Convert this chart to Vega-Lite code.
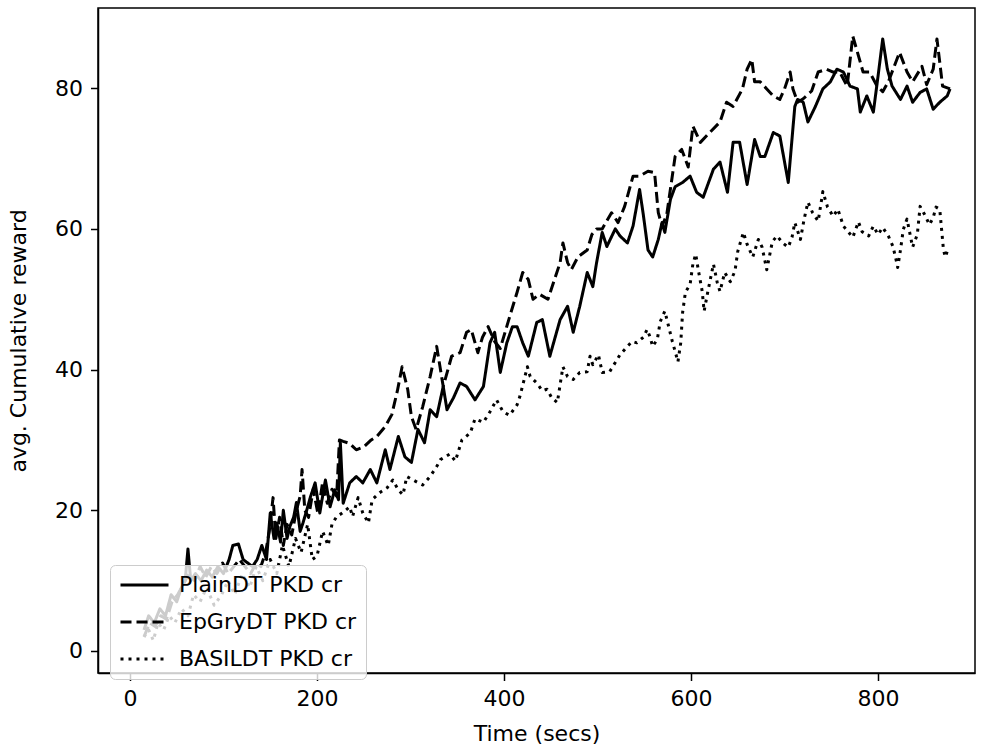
{
  "$schema": "https://vega.github.io/schema/vega-lite/v6.json",
  "width": 877,
  "height": 665,
  "autosize": {"type": "none"},
  "padding": {"left": 98, "top": 8, "right": 14, "bottom": 80},
  "background": "white",
  "config": {
    "font": "DejaVu Sans",
    "view": {"stroke": "black", "strokeWidth": 1.5},
    "axis": {
      "grid": false,
      "domainColor": "black",
      "domainWidth": 1.5,
      "tickColor": "black",
      "tickWidth": 1.5,
      "tickSize": 7.5,
      "labelFont": "DejaVu Sans",
      "labelFontSize": 22,
      "labelColor": "black",
      "titleFont": "DejaVu Sans",
      "titleFontSize": 22,
      "titleColor": "black",
      "titleFontWeight": "normal"
    },
    "legend": {
      "orient": "none",
      "legendX": 12,
      "legendY": 557,
      "fillColor": "rgba(255,255,255,0.8)",
      "strokeColor": "#cccccc",
      "cornerRadius": 5,
      "padding": 9,
      "rowPadding": 15,
      "clipHeight": 22,
      "labelFont": "DejaVu Sans",
      "labelFontSize": 22,
      "labelColor": "black",
      "labelOffset": 9,
      "labelLimit": 400,
      "symbolType": "stroke",
      "symbolSize": 2304,
      "symbolStrokeWidth": 3,
      "symbolStrokeColor": "black",
      "title": null
    }
  },
  "data": {
    "values": [
      {"series":"PlainDT PKD cr","time":15,"reward":3},{"series":"PlainDT PKD cr","time":20,"reward":5},{"series":"PlainDT PKD cr","time":26,"reward":4},{"series":"PlainDT PKD cr","time":32,"reward":6},{"series":"PlainDT PKD cr","time":38,"reward":5},{"series":"PlainDT PKD cr","time":44,"reward":8},{"series":"PlainDT PKD cr","time":50,"reward":7},{"series":"PlainDT PKD cr","time":55,"reward":9},{"series":"PlainDT PKD cr","time":59,"reward":10},{"series":"PlainDT PKD cr","time":62,"reward":14.5},{"series":"PlainDT PKD cr","time":65,"reward":10},{"series":"PlainDT PKD cr","time":70,"reward":11},{"series":"PlainDT PKD cr","time":76,"reward":10},{"series":"PlainDT PKD cr","time":82,"reward":11.5},{"series":"PlainDT PKD cr","time":88,"reward":10.5},{"series":"PlainDT PKD cr","time":94,"reward":12},{"series":"PlainDT PKD cr","time":100,"reward":11},{"series":"PlainDT PKD cr","time":106,"reward":13},{"series":"PlainDT PKD cr","time":110,"reward":15},{"series":"PlainDT PKD cr","time":116,"reward":15.2},{"series":"PlainDT PKD cr","time":121,"reward":13},{"series":"PlainDT PKD cr","time":126,"reward":12.5},{"series":"PlainDT PKD cr","time":131,"reward":12},{"series":"PlainDT PKD cr","time":136,"reward":13},{"series":"PlainDT PKD cr","time":141,"reward":15},{"series":"PlainDT PKD cr","time":146,"reward":13},{"series":"PlainDT PKD cr","time":150,"reward":19.6},{"series":"PlainDT PKD cr","time":154,"reward":16},{"series":"PlainDT PKD cr","time":157,"reward":18.2},{"series":"PlainDT PKD cr","time":161,"reward":15.5},{"series":"PlainDT PKD cr","time":164,"reward":20},{"series":"PlainDT PKD cr","time":168,"reward":16},{"series":"PlainDT PKD cr","time":171,"reward":17.7},{"series":"PlainDT PKD cr","time":175,"reward":19},{"series":"PlainDT PKD cr","time":178,"reward":21.1},{"series":"PlainDT PKD cr","time":182,"reward":17},{"series":"PlainDT PKD cr","time":185,"reward":18.2},{"series":"PlainDT PKD cr","time":189,"reward":20},{"series":"PlainDT PKD cr","time":193,"reward":21.9},{"series":"PlainDT PKD cr","time":198,"reward":23.9},{"series":"PlainDT PKD cr","time":203,"reward":19.6},{"series":"PlainDT PKD cr","time":206,"reward":22},{"series":"PlainDT PKD cr","time":209,"reward":24.3},{"series":"PlainDT PKD cr","time":214,"reward":20.5},{"series":"PlainDT PKD cr","time":219,"reward":22.9},{"series":"PlainDT PKD cr","time":223,"reward":21.5},{"series":"PlainDT PKD cr","time":225,"reward":29.6},{"series":"PlainDT PKD cr","time":228,"reward":21},{"series":"PlainDT PKD cr","time":235,"reward":23.9},{"series":"PlainDT PKD cr","time":242,"reward":24.8},{"series":"PlainDT PKD cr","time":249,"reward":23.9},{"series":"PlainDT PKD cr","time":257,"reward":25.8},{"series":"PlainDT PKD cr","time":264,"reward":23.9},{"series":"PlainDT PKD cr","time":273,"reward":28.6},{"series":"PlainDT PKD cr","time":278,"reward":25.8},{"series":"PlainDT PKD cr","time":287,"reward":30.5},{"series":"PlainDT PKD cr","time":294,"reward":27.6},{"series":"PlainDT PKD cr","time":301,"reward":26.8},{"series":"PlainDT PKD cr","time":308,"reward":31.5},{"series":"PlainDT PKD cr","time":315,"reward":29.6},{"series":"PlainDT PKD cr","time":321,"reward":34.3},{"series":"PlainDT PKD cr","time":328,"reward":33.3},{"series":"PlainDT PKD cr","time":335,"reward":37.6},{"series":"PlainDT PKD cr","time":339,"reward":34.3},{"series":"PlainDT PKD cr","time":346,"reward":36},{"series":"PlainDT PKD cr","time":353,"reward":38.1},{"series":"PlainDT PKD cr","time":360,"reward":37.6},{"series":"PlainDT PKD cr","time":369,"reward":35.7},{"series":"PlainDT PKD cr","time":378,"reward":37.6},{"series":"PlainDT PKD cr","time":385,"reward":43.8},{"series":"PlainDT PKD cr","time":390,"reward":45.3},{"series":"PlainDT PKD cr","time":396,"reward":39.6},{"series":"PlainDT PKD cr","time":403,"reward":43.8},{"series":"PlainDT PKD cr","time":409,"reward":46.1},{"series":"PlainDT PKD cr","time":414,"reward":46.1},{"series":"PlainDT PKD cr","time":420,"reward":43.8},{"series":"PlainDT PKD cr","time":426,"reward":41.9},{"series":"PlainDT PKD cr","time":435,"reward":46.7},{"series":"PlainDT PKD cr","time":441,"reward":47.1},{"series":"PlainDT PKD cr","time":449,"reward":41.9},{"series":"PlainDT PKD cr","time":460,"reward":47.1},{"series":"PlainDT PKD cr","time":468,"reward":49},{"series":"PlainDT PKD cr","time":474,"reward":45.3},{"series":"PlainDT PKD cr","time":481,"reward":49},{"series":"PlainDT PKD cr","time":489,"reward":53.8},{"series":"PlainDT PKD cr","time":495,"reward":51.8},{"series":"PlainDT PKD cr","time":499,"reward":55.2},{"series":"PlainDT PKD cr","time":505,"reward":59.5},{"series":"PlainDT PKD cr","time":510,"reward":57.5},{"series":"PlainDT PKD cr","time":519,"reward":60},{"series":"PlainDT PKD cr","time":524,"reward":59},{"series":"PlainDT PKD cr","time":532,"reward":58},{"series":"PlainDT PKD cr","time":538,"reward":60.4},{"series":"PlainDT PKD cr","time":545,"reward":65.6},{"series":"PlainDT PKD cr","time":549,"reward":62},{"series":"PlainDT PKD cr","time":554,"reward":57},{"series":"PlainDT PKD cr","time":559,"reward":56},{"series":"PlainDT PKD cr","time":565,"reward":58.5},{"series":"PlainDT PKD cr","time":569,"reward":60.9},{"series":"PlainDT PKD cr","time":572,"reward":59.5},{"series":"PlainDT PKD cr","time":578,"reward":64.2},{"series":"PlainDT PKD cr","time":583,"reward":66},{"series":"PlainDT PKD cr","time":591,"reward":66.6},{"series":"PlainDT PKD cr","time":599,"reward":67.5},{"series":"PlainDT PKD cr","time":606,"reward":65.2},{"series":"PlainDT PKD cr","time":613,"reward":64.5},{"series":"PlainDT PKD cr","time":624,"reward":68.5},{"series":"PlainDT PKD cr","time":631,"reward":69.5},{"series":"PlainDT PKD cr","time":639,"reward":65.2},{"series":"PlainDT PKD cr","time":645,"reward":72.3},{"series":"PlainDT PKD cr","time":652,"reward":72.3},{"series":"PlainDT PKD cr","time":660,"reward":66.3},{"series":"PlainDT PKD cr","time":668,"reward":72.7},{"series":"PlainDT PKD cr","time":674,"reward":70.3},{"series":"PlainDT PKD cr","time":679,"reward":70.3},{"series":"PlainDT PKD cr","time":688,"reward":73.7},{"series":"PlainDT PKD cr","time":695,"reward":73.2},{"series":"PlainDT PKD cr","time":704,"reward":66.6},{"series":"PlainDT PKD cr","time":711,"reward":77.4},{"series":"PlainDT PKD cr","time":714,"reward":78.4},{"series":"PlainDT PKD cr","time":720,"reward":78},{"series":"PlainDT PKD cr","time":725,"reward":75.2},{"series":"PlainDT PKD cr","time":733,"reward":77.4},{"series":"PlainDT PKD cr","time":741,"reward":79.9},{"series":"PlainDT PKD cr","time":749,"reward":80.9},{"series":"PlainDT PKD cr","time":756,"reward":82.7},{"series":"PlainDT PKD cr","time":763,"reward":82.3},{"series":"PlainDT PKD cr","time":770,"reward":80.3},{"series":"PlainDT PKD cr","time":778,"reward":79.9},{"series":"PlainDT PKD cr","time":781,"reward":76.6},{"series":"PlainDT PKD cr","time":788,"reward":78.9},{"series":"PlainDT PKD cr","time":795,"reward":76.6},{"series":"PlainDT PKD cr","time":800,"reward":81.7},{"series":"PlainDT PKD cr","time":805,"reward":87},{"series":"PlainDT PKD cr","time":810,"reward":82.7},{"series":"PlainDT PKD cr","time":815,"reward":80.3},{"series":"PlainDT PKD cr","time":824,"reward":78.4},{"series":"PlainDT PKD cr","time":831,"reward":80.3},{"series":"PlainDT PKD cr","time":837,"reward":78},{"series":"PlainDT PKD cr","time":845,"reward":79.4},{"series":"PlainDT PKD cr","time":852,"reward":79.9},{"series":"PlainDT PKD cr","time":859,"reward":77},{"series":"PlainDT PKD cr","time":866,"reward":78},{"series":"PlainDT PKD cr","time":874,"reward":78.9},{"series":"PlainDT PKD cr","time":877,"reward":79.9},
      {"series":"EpGryDT PKD cr","time":15,"reward":2},{"series":"EpGryDT PKD cr","time":21,"reward":4},{"series":"EpGryDT PKD cr","time":27,"reward":3.5},{"series":"EpGryDT PKD cr","time":33,"reward":5},{"series":"EpGryDT PKD cr","time":39,"reward":4.5},{"series":"EpGryDT PKD cr","time":45,"reward":7},{"series":"EpGryDT PKD cr","time":51,"reward":8},{"series":"EpGryDT PKD cr","time":57,"reward":9.5},{"series":"EpGryDT PKD cr","time":63,"reward":11},{"series":"EpGryDT PKD cr","time":69,"reward":10},{"series":"EpGryDT PKD cr","time":75,"reward":12},{"series":"EpGryDT PKD cr","time":81,"reward":10.5},{"series":"EpGryDT PKD cr","time":87,"reward":12},{"series":"EpGryDT PKD cr","time":93,"reward":11},{"series":"EpGryDT PKD cr","time":99,"reward":12.5},{"series":"EpGryDT PKD cr","time":105,"reward":11},{"series":"EpGryDT PKD cr","time":111,"reward":12},{"series":"EpGryDT PKD cr","time":117,"reward":13},{"series":"EpGryDT PKD cr","time":123,"reward":12},{"series":"EpGryDT PKD cr","time":129,"reward":11},{"series":"EpGryDT PKD cr","time":135,"reward":12.5},{"series":"EpGryDT PKD cr","time":140,"reward":12},{"series":"EpGryDT PKD cr","time":145,"reward":14},{"series":"EpGryDT PKD cr","time":149,"reward":17},{"series":"EpGryDT PKD cr","time":153,"reward":21.8},{"series":"EpGryDT PKD cr","time":156,"reward":16},{"series":"EpGryDT PKD cr","time":160,"reward":19},{"series":"EpGryDT PKD cr","time":164,"reward":15},{"series":"EpGryDT PKD cr","time":168,"reward":18},{"series":"EpGryDT PKD cr","time":173,"reward":16.5},{"series":"EpGryDT PKD cr","time":178,"reward":20},{"series":"EpGryDT PKD cr","time":182,"reward":22},{"series":"EpGryDT PKD cr","time":184,"reward":25.8},{"series":"EpGryDT PKD cr","time":187,"reward":20},{"series":"EpGryDT PKD cr","time":191,"reward":19},{"series":"EpGryDT PKD cr","time":196,"reward":23},{"series":"EpGryDT PKD cr","time":201,"reward":19.5},{"series":"EpGryDT PKD cr","time":206,"reward":24},{"series":"EpGryDT PKD cr","time":211,"reward":21},{"series":"EpGryDT PKD cr","time":216,"reward":23},{"series":"EpGryDT PKD cr","time":221,"reward":22},{"series":"EpGryDT PKD cr","time":224,"reward":30},{"series":"EpGryDT PKD cr","time":228,"reward":29.8},{"series":"EpGryDT PKD cr","time":235,"reward":29.5},{"series":"EpGryDT PKD cr","time":242,"reward":28.6},{"series":"EpGryDT PKD cr","time":250,"reward":29},{"series":"EpGryDT PKD cr","time":258,"reward":30},{"series":"EpGryDT PKD cr","time":264,"reward":30.5},{"series":"EpGryDT PKD cr","time":273,"reward":31.9},{"series":"EpGryDT PKD cr","time":280,"reward":33.6},{"series":"EpGryDT PKD cr","time":286,"reward":37},{"series":"EpGryDT PKD cr","time":291,"reward":40.4},{"series":"EpGryDT PKD cr","time":297,"reward":37.2},{"series":"EpGryDT PKD cr","time":301,"reward":33.3},{"series":"EpGryDT PKD cr","time":306,"reward":31.5},{"series":"EpGryDT PKD cr","time":313,"reward":34.7},{"series":"EpGryDT PKD cr","time":321,"reward":39},{"series":"EpGryDT PKD cr","time":328,"reward":43.3},{"series":"EpGryDT PKD cr","time":335,"reward":37.6},{"series":"EpGryDT PKD cr","time":344,"reward":41.9},{"series":"EpGryDT PKD cr","time":353,"reward":42.4},{"series":"EpGryDT PKD cr","time":360,"reward":45.3},{"series":"EpGryDT PKD cr","time":365,"reward":45.7},{"series":"EpGryDT PKD cr","time":372,"reward":42.4},{"series":"EpGryDT PKD cr","time":377,"reward":44.6},{"series":"EpGryDT PKD cr","time":383,"reward":46.1},{"series":"EpGryDT PKD cr","time":390,"reward":44},{"series":"EpGryDT PKD cr","time":396,"reward":43},{"series":"EpGryDT PKD cr","time":406,"reward":47.5},{"series":"EpGryDT PKD cr","time":414,"reward":51},{"series":"EpGryDT PKD cr","time":420,"reward":53.8},{"series":"EpGryDT PKD cr","time":426,"reward":52.8},{"series":"EpGryDT PKD cr","time":431,"reward":50},{"series":"EpGryDT PKD cr","time":438,"reward":50.7},{"series":"EpGryDT PKD cr","time":447,"reward":50},{"series":"EpGryDT PKD cr","time":454,"reward":52.8},{"series":"EpGryDT PKD cr","time":460,"reward":55.2},{"series":"EpGryDT PKD cr","time":463,"reward":58},{"series":"EpGryDT PKD cr","time":468,"reward":55.2},{"series":"EpGryDT PKD cr","time":472,"reward":54.2},{"series":"EpGryDT PKD cr","time":479,"reward":56},{"series":"EpGryDT PKD cr","time":489,"reward":57},{"series":"EpGryDT PKD cr","time":494,"reward":59.2},{"series":"EpGryDT PKD cr","time":499,"reward":60},{"series":"EpGryDT PKD cr","time":505,"reward":60},{"series":"EpGryDT PKD cr","time":515,"reward":62.3},{"series":"EpGryDT PKD cr","time":522,"reward":60.9},{"series":"EpGryDT PKD cr","time":529,"reward":63.2},{"series":"EpGryDT PKD cr","time":538,"reward":67.5},{"series":"EpGryDT PKD cr","time":545,"reward":67.5},{"series":"EpGryDT PKD cr","time":554,"reward":68.2},{"series":"EpGryDT PKD cr","time":561,"reward":68},{"series":"EpGryDT PKD cr","time":565,"reward":62.3},{"series":"EpGryDT PKD cr","time":569,"reward":60.4},{"series":"EpGryDT PKD cr","time":574,"reward":62},{"series":"EpGryDT PKD cr","time":583,"reward":70.3},{"series":"EpGryDT PKD cr","time":590,"reward":71.3},{"series":"EpGryDT PKD cr","time":597,"reward":68.8},{"series":"EpGryDT PKD cr","time":602,"reward":74.6},{"series":"EpGryDT PKD cr","time":610,"reward":72.3},{"series":"EpGryDT PKD cr","time":620,"reward":73.7},{"series":"EpGryDT PKD cr","time":631,"reward":75.2},{"series":"EpGryDT PKD cr","time":638,"reward":78},{"series":"EpGryDT PKD cr","time":645,"reward":77.4},{"series":"EpGryDT PKD cr","time":655,"reward":79.9},{"series":"EpGryDT PKD cr","time":660,"reward":82.7},{"series":"EpGryDT PKD cr","time":665,"reward":84.1},{"series":"EpGryDT PKD cr","time":668,"reward":80.9},{"series":"EpGryDT PKD cr","time":674,"reward":80.9},{"series":"EpGryDT PKD cr","time":681,"reward":79.9},{"series":"EpGryDT PKD cr","time":688,"reward":78.9},{"series":"EpGryDT PKD cr","time":695,"reward":78.4},{"series":"EpGryDT PKD cr","time":700,"reward":79.9},{"series":"EpGryDT PKD cr","time":706,"reward":82.3},{"series":"EpGryDT PKD cr","time":709,"reward":79.9},{"series":"EpGryDT PKD cr","time":714,"reward":78},{"series":"EpGryDT PKD cr","time":720,"reward":78.5},{"series":"EpGryDT PKD cr","time":729,"reward":79.6},{"series":"EpGryDT PKD cr","time":736,"reward":82.3},{"series":"EpGryDT PKD cr","time":745,"reward":82.7},{"series":"EpGryDT PKD cr","time":752,"reward":82.3},{"series":"EpGryDT PKD cr","time":759,"reward":82.3},{"series":"EpGryDT PKD cr","time":767,"reward":80.3},{"series":"EpGryDT PKD cr","time":773,"reward":87.4},{"series":"EpGryDT PKD cr","time":778,"reward":85.1},{"series":"EpGryDT PKD cr","time":784,"reward":82.3},{"series":"EpGryDT PKD cr","time":791,"reward":82.3},{"series":"EpGryDT PKD cr","time":799,"reward":80.3},{"series":"EpGryDT PKD cr","time":805,"reward":79.5},{"series":"EpGryDT PKD cr","time":811,"reward":80.9},{"series":"EpGryDT PKD cr","time":817,"reward":83},{"series":"EpGryDT PKD cr","time":823,"reward":85.1},{"series":"EpGryDT PKD cr","time":831,"reward":82.3},{"series":"EpGryDT PKD cr","time":837,"reward":80.9},{"series":"EpGryDT PKD cr","time":847,"reward":83.1},{"series":"EpGryDT PKD cr","time":852,"reward":80.5},{"series":"EpGryDT PKD cr","time":859,"reward":82.7},{"series":"EpGryDT PKD cr","time":863,"reward":87},{"series":"EpGryDT PKD cr","time":866,"reward":83.7},{"series":"EpGryDT PKD cr","time":869,"reward":80.3},{"series":"EpGryDT PKD cr","time":877,"reward":79.9},
      {"series":"BASILDT PKD cr","time":15,"reward":2},{"series":"BASILDT PKD cr","time":20,"reward":3},{"series":"BASILDT PKD cr","time":25,"reward":1.5},{"series":"BASILDT PKD cr","time":30,"reward":4},{"series":"BASILDT PKD cr","time":36,"reward":3},{"series":"BASILDT PKD cr","time":42,"reward":5},{"series":"BASILDT PKD cr","time":48,"reward":4},{"series":"BASILDT PKD cr","time":55,"reward":6},{"series":"BASILDT PKD cr","time":62,"reward":5},{"series":"BASILDT PKD cr","time":68,"reward":8},{"series":"BASILDT PKD cr","time":75,"reward":7},{"series":"BASILDT PKD cr","time":82,"reward":9},{"series":"BASILDT PKD cr","time":90,"reward":6.5},{"series":"BASILDT PKD cr","time":98,"reward":8},{"series":"BASILDT PKD cr","time":105,"reward":10},{"series":"BASILDT PKD cr","time":112,"reward":8},{"series":"BASILDT PKD cr","time":120,"reward":11},{"series":"BASILDT PKD cr","time":128,"reward":9},{"series":"BASILDT PKD cr","time":135,"reward":12},{"series":"BASILDT PKD cr","time":142,"reward":10},{"series":"BASILDT PKD cr","time":150,"reward":13},{"series":"BASILDT PKD cr","time":157,"reward":11},{"series":"BASILDT PKD cr","time":163,"reward":15},{"series":"BASILDT PKD cr","time":170,"reward":12},{"series":"BASILDT PKD cr","time":177,"reward":16},{"series":"BASILDT PKD cr","time":183,"reward":14},{"series":"BASILDT PKD cr","time":190,"reward":18},{"series":"BASILDT PKD cr","time":195,"reward":13},{"series":"BASILDT PKD cr","time":200,"reward":13.5},{"series":"BASILDT PKD cr","time":206,"reward":17},{"series":"BASILDT PKD cr","time":212,"reward":15},{"series":"BASILDT PKD cr","time":216,"reward":18},{"series":"BASILDT PKD cr","time":221,"reward":19.1},{"series":"BASILDT PKD cr","time":227,"reward":19.6},{"series":"BASILDT PKD cr","time":235,"reward":20.5},{"series":"BASILDT PKD cr","time":238,"reward":19.1},{"series":"BASILDT PKD cr","time":244,"reward":21.8},{"series":"BASILDT PKD cr","time":249,"reward":19.6},{"series":"BASILDT PKD cr","time":255,"reward":18.2},{"series":"BASILDT PKD cr","time":259,"reward":21.5},{"series":"BASILDT PKD cr","time":267,"reward":22.5},{"series":"BASILDT PKD cr","time":275,"reward":23.2},{"series":"BASILDT PKD cr","time":281,"reward":24.3},{"series":"BASILDT PKD cr","time":287,"reward":22.9},{"series":"BASILDT PKD cr","time":292,"reward":22.2},{"series":"BASILDT PKD cr","time":296,"reward":24.8},{"series":"BASILDT PKD cr","time":307,"reward":24},{"series":"BASILDT PKD cr","time":313,"reward":23.6},{"series":"BASILDT PKD cr","time":321,"reward":24.8},{"series":"BASILDT PKD cr","time":328,"reward":26.2},{"series":"BASILDT PKD cr","time":332,"reward":27.2},{"series":"BASILDT PKD cr","time":342,"reward":28},{"series":"BASILDT PKD cr","time":348,"reward":27},{"series":"BASILDT PKD cr","time":355,"reward":30},{"series":"BASILDT PKD cr","time":364,"reward":31},{"series":"BASILDT PKD cr","time":369,"reward":33},{"series":"BASILDT PKD cr","time":378,"reward":32.5},{"series":"BASILDT PKD cr","time":385,"reward":34},{"series":"BASILDT PKD cr","time":392,"reward":35.7},{"series":"BASILDT PKD cr","time":399,"reward":34},{"series":"BASILDT PKD cr","time":406,"reward":33.5},{"series":"BASILDT PKD cr","time":414,"reward":35},{"series":"BASILDT PKD cr","time":417,"reward":36.2},{"series":"BASILDT PKD cr","time":425,"reward":40.4},{"series":"BASILDT PKD cr","time":428,"reward":39},{"series":"BASILDT PKD cr","time":435,"reward":38.1},{"series":"BASILDT PKD cr","time":441,"reward":37},{"series":"BASILDT PKD cr","time":446,"reward":37.2},{"series":"BASILDT PKD cr","time":451,"reward":36},{"series":"BASILDT PKD cr","time":457,"reward":35.3},{"series":"BASILDT PKD cr","time":463,"reward":40.4},{"series":"BASILDT PKD cr","time":468,"reward":39},{"series":"BASILDT PKD cr","time":474,"reward":38.6},{"series":"BASILDT PKD cr","time":481,"reward":39.6},{"series":"BASILDT PKD cr","time":489,"reward":39.7},{"series":"BASILDT PKD cr","time":492,"reward":41.9},{"series":"BASILDT PKD cr","time":495,"reward":40.7},{"series":"BASILDT PKD cr","time":501,"reward":42.1},{"series":"BASILDT PKD cr","time":505,"reward":39.6},{"series":"BASILDT PKD cr","time":513,"reward":39.7},{"series":"BASILDT PKD cr","time":519,"reward":41},{"series":"BASILDT PKD cr","time":524,"reward":42.1},{"series":"BASILDT PKD cr","time":532,"reward":43.3},{"series":"BASILDT PKD cr","time":537,"reward":44},{"series":"BASILDT PKD cr","time":542,"reward":43.8},{"series":"BASILDT PKD cr","time":549,"reward":44.6},{"series":"BASILDT PKD cr","time":553,"reward":45.7},{"series":"BASILDT PKD cr","time":556,"reward":44.7},{"series":"BASILDT PKD cr","time":559,"reward":43.3},{"series":"BASILDT PKD cr","time":564,"reward":44.3},{"series":"BASILDT PKD cr","time":567,"reward":46.8},{"series":"BASILDT PKD cr","time":572,"reward":48.3},{"series":"BASILDT PKD cr","time":575,"reward":46.7},{"series":"BASILDT PKD cr","time":580,"reward":44},{"series":"BASILDT PKD cr","time":583,"reward":42.6},{"series":"BASILDT PKD cr","time":586,"reward":41.1},{"series":"BASILDT PKD cr","time":589,"reward":43.8},{"series":"BASILDT PKD cr","time":591,"reward":48.1},{"series":"BASILDT PKD cr","time":594,"reward":51},{"series":"BASILDT PKD cr","time":599,"reward":52.1},{"series":"BASILDT PKD cr","time":602,"reward":55},{"series":"BASILDT PKD cr","time":605,"reward":56.4},{"series":"BASILDT PKD cr","time":608,"reward":54},{"series":"BASILDT PKD cr","time":612,"reward":51.1},{"series":"BASILDT PKD cr","time":614,"reward":48.3},{"series":"BASILDT PKD cr","time":618,"reward":51.1},{"series":"BASILDT PKD cr","time":624,"reward":55},{"series":"BASILDT PKD cr","time":628,"reward":52.4},{"series":"BASILDT PKD cr","time":631,"reward":51.1},{"series":"BASILDT PKD cr","time":636,"reward":53.8},{"series":"BASILDT PKD cr","time":642,"reward":52.5},{"series":"BASILDT PKD cr","time":647,"reward":54},{"series":"BASILDT PKD cr","time":650,"reward":56.8},{"series":"BASILDT PKD cr","time":656,"reward":59.5},{"series":"BASILDT PKD cr","time":660,"reward":57.8},{"series":"BASILDT PKD cr","time":666,"reward":56},{"series":"BASILDT PKD cr","time":672,"reward":58.5},{"series":"BASILDT PKD cr","time":676,"reward":57.4},{"series":"BASILDT PKD cr","time":681,"reward":54.2},{"series":"BASILDT PKD cr","time":687,"reward":58.2},{"series":"BASILDT PKD cr","time":692,"reward":59},{"series":"BASILDT PKD cr","time":698,"reward":58},{"series":"BASILDT PKD cr","time":704,"reward":57.4},{"series":"BASILDT PKD cr","time":708,"reward":58.8},{"series":"BASILDT PKD cr","time":711,"reward":60.9},{"series":"BASILDT PKD cr","time":717,"reward":58.5},{"series":"BASILDT PKD cr","time":721,"reward":61.4},{"series":"BASILDT PKD cr","time":725,"reward":63.8},{"series":"BASILDT PKD cr","time":730,"reward":62.3},{"series":"BASILDT PKD cr","time":736,"reward":61.1},{"series":"BASILDT PKD cr","time":741,"reward":65.3},{"series":"BASILDT PKD cr","time":746,"reward":63.1},{"series":"BASILDT PKD cr","time":752,"reward":61.8},{"series":"BASILDT PKD cr","time":757,"reward":62.8},{"series":"BASILDT PKD cr","time":763,"reward":60.4},{"series":"BASILDT PKD cr","time":768,"reward":59.6},{"series":"BASILDT PKD cr","time":773,"reward":58.8},{"series":"BASILDT PKD cr","time":779,"reward":61},{"series":"BASILDT PKD cr","time":783,"reward":59.6},{"series":"BASILDT PKD cr","time":790,"reward":59},{"series":"BASILDT PKD cr","time":795,"reward":60.4},{"series":"BASILDT PKD cr","time":800,"reward":59.2},{"series":"BASILDT PKD cr","time":805,"reward":60.2},{"series":"BASILDT PKD cr","time":811,"reward":59},{"series":"BASILDT PKD cr","time":816,"reward":57.5},{"series":"BASILDT PKD cr","time":820,"reward":55.2},{"series":"BASILDT PKD cr","time":821,"reward":54.5},{"series":"BASILDT PKD cr","time":824,"reward":57},{"series":"BASILDT PKD cr","time":827,"reward":59.9},{"series":"BASILDT PKD cr","time":831,"reward":61.4},{"series":"BASILDT PKD cr","time":837,"reward":57.4},{"series":"BASILDT PKD cr","time":842,"reward":59.2},{"series":"BASILDT PKD cr","time":845,"reward":63.2},{"series":"BASILDT PKD cr","time":850,"reward":62},{"series":"BASILDT PKD cr","time":855,"reward":60.6},{"series":"BASILDT PKD cr","time":859,"reward":61.6},{"series":"BASILDT PKD cr","time":862,"reward":63.1},{"series":"BASILDT PKD cr","time":866,"reward":62.8},{"series":"BASILDT PKD cr","time":868,"reward":59.9},{"series":"BASILDT PKD cr","time":870,"reward":57},{"series":"BASILDT PKD cr","time":872,"reward":56},{"series":"BASILDT PKD cr","time":874,"reward":56.8}
    ]
  },
  "mark": {"type": "line", "color": "black", "strokeWidth": 3, "strokeJoin": "round", "clip": true},
  "encoding": {
    "x": {
      "field": "time",
      "type": "quantitative",
      "title": "Time (secs)",
      "scale": {"domain": [-34.2, 903.7], "nice": false, "zero": false},
      "axis": {"values": [0, 200, 400, 600, 800], "labelPadding": 8, "titlePadding": 14}
    },
    "y": {
      "field": "reward",
      "type": "quantitative",
      "title": "avg. Cumulative reward",
      "scale": {"domain": [-3.13, 91.4], "nice": false, "zero": false},
      "axis": {"values": [0, 20, 40, 60, 80], "labelPadding": 8, "titlePadding": 24}
    },
    "strokeDash": {
      "field": "series",
      "type": "nominal",
      "scale": {
        "domain": ["PlainDT PKD cr", "EpGryDT PKD cr", "BASILDT PKD cr"],
        "range": [[1, 0], [11, 5], [3, 5]]
      },
      "legend": {"title": null}
    }
  }
}
